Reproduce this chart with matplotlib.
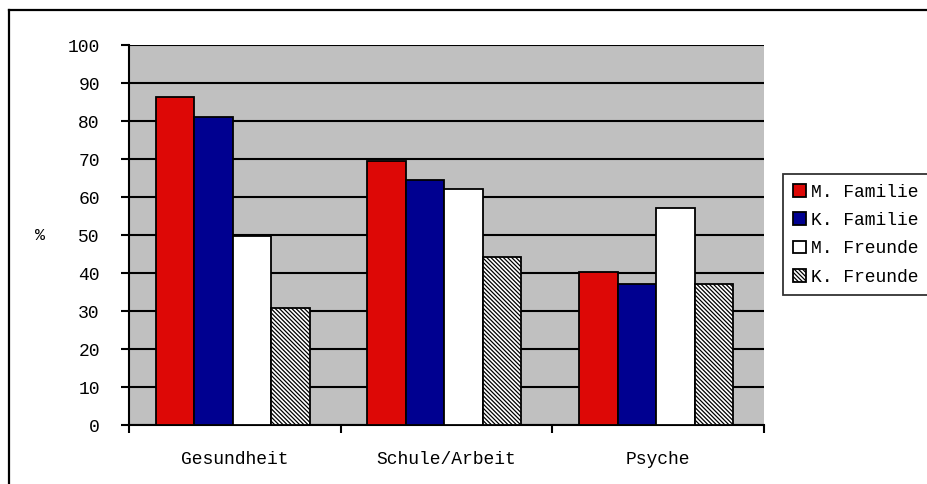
import matplotlib
matplotlib.use("Agg")
import matplotlib.pyplot as plt
from matplotlib.lines import Line2D
import numpy as np

categories = ["Gesundheit", "Schule/Arbeit", "Psyche"]
series_names = ["M. Familie", "K. Familie", "M. Freunde", "K. Freunde"]
m_familie = [86.4, 69.6, 40.3]
k_familie = [81.1, 64.5, 37.0]
m_freunde = [49.7, 62.2, 57.2]
k_freunde = [30.9, 44.3, 37.0]
y_ticks = list(range(0, 101, 10))

series = [m_familie, k_familie, m_freunde, k_freunde]
colors = ["#DD0806", "#000090", "#FFFFFF", "#FFFFFF"]
hatches = [None, None, None, "\\" * 8]

plt.rcParams["font.family"] = ["Liberation Mono", "DejaVu Sans Mono"]
plt.rcParams["hatch.linewidth"] = 0.9

W, H = 928, 484
fig = plt.figure(figsize=(W / 100, H / 100), dpi=100)
fig.patch.set_facecolor("white")

ax = fig.add_axes([129 / W, 1 - 425 / H, (764 - 129) / W, (425 - 45) / H])
ax.set_facecolor("#C0C0C0")

x = np.arange(len(categories))
bw = 0.182
offsets = (np.arange(4) - 1.5) * bw
handles = []
for i, vals in enumerate(series):
    b = ax.bar(x + offsets[i] - 0.01, vals, width=bw, color=colors[i],
               edgecolor="black", linewidth=1.3, hatch=hatches[i],
               label=series_names[i], zorder=3)
    handles.append(b)

ax.set_xlim(-0.5, 2.5)
ax.set_ylim(0, 100)
ax.set_yticks(y_ticks)
ax.set_yticklabels([str(t) for t in y_ticks], fontsize=13)
ax.yaxis.grid(True, color="black", linewidth=1.5, zorder=1)
ax.set_axisbelow(True)

ax.set_xticks([-0.5, 0.5, 1.5, 2.5])
ax.set_xticklabels([])
ax.set_xticks(x, minor=True)
ax.set_xticklabels(categories, minor=True, fontsize=13)
ax.tick_params(axis="x", which="minor", length=0, pad=19)
ax.tick_params(axis="x", which="major", direction="out", length=6, width=1.5)
ax.tick_params(axis="y", direction="out", length=6, width=1.5, pad=15)

for s in ["top", "right"]:
    ax.spines[s].set_visible(False)
for s in ["left", "bottom"]:
    ax.spines[s].set_linewidth(1.5)

fig.text(40 / W, 1 - 235 / H, "%", fontsize=12, ha="center", va="center")

leg = fig.legend(handles=handles, labels=series_names, loc="upper left",
                 bbox_to_anchor=(783 / W, 1 - 174 / H), fontsize=13,
                 frameon=True, fancybox=False, shadow=False,
                 handlelength=0.7, handleheight=0.7, handletextpad=0.3,
                 labelspacing=0.62, borderpad=0.55, borderaxespad=0)
leg.get_frame().set_edgecolor("black")
leg.get_frame().set_linewidth(1.3)

fig.add_artist(Line2D([9 / W, 1.0], [1 - 10 / H, 1 - 10 / H], color="black", linewidth=1.6))
fig.add_artist(Line2D([9 / W, 9 / W], [0, 1 - 10 / H], color="black", linewidth=1.6))

fig.savefig("out.png", dpi=100)
